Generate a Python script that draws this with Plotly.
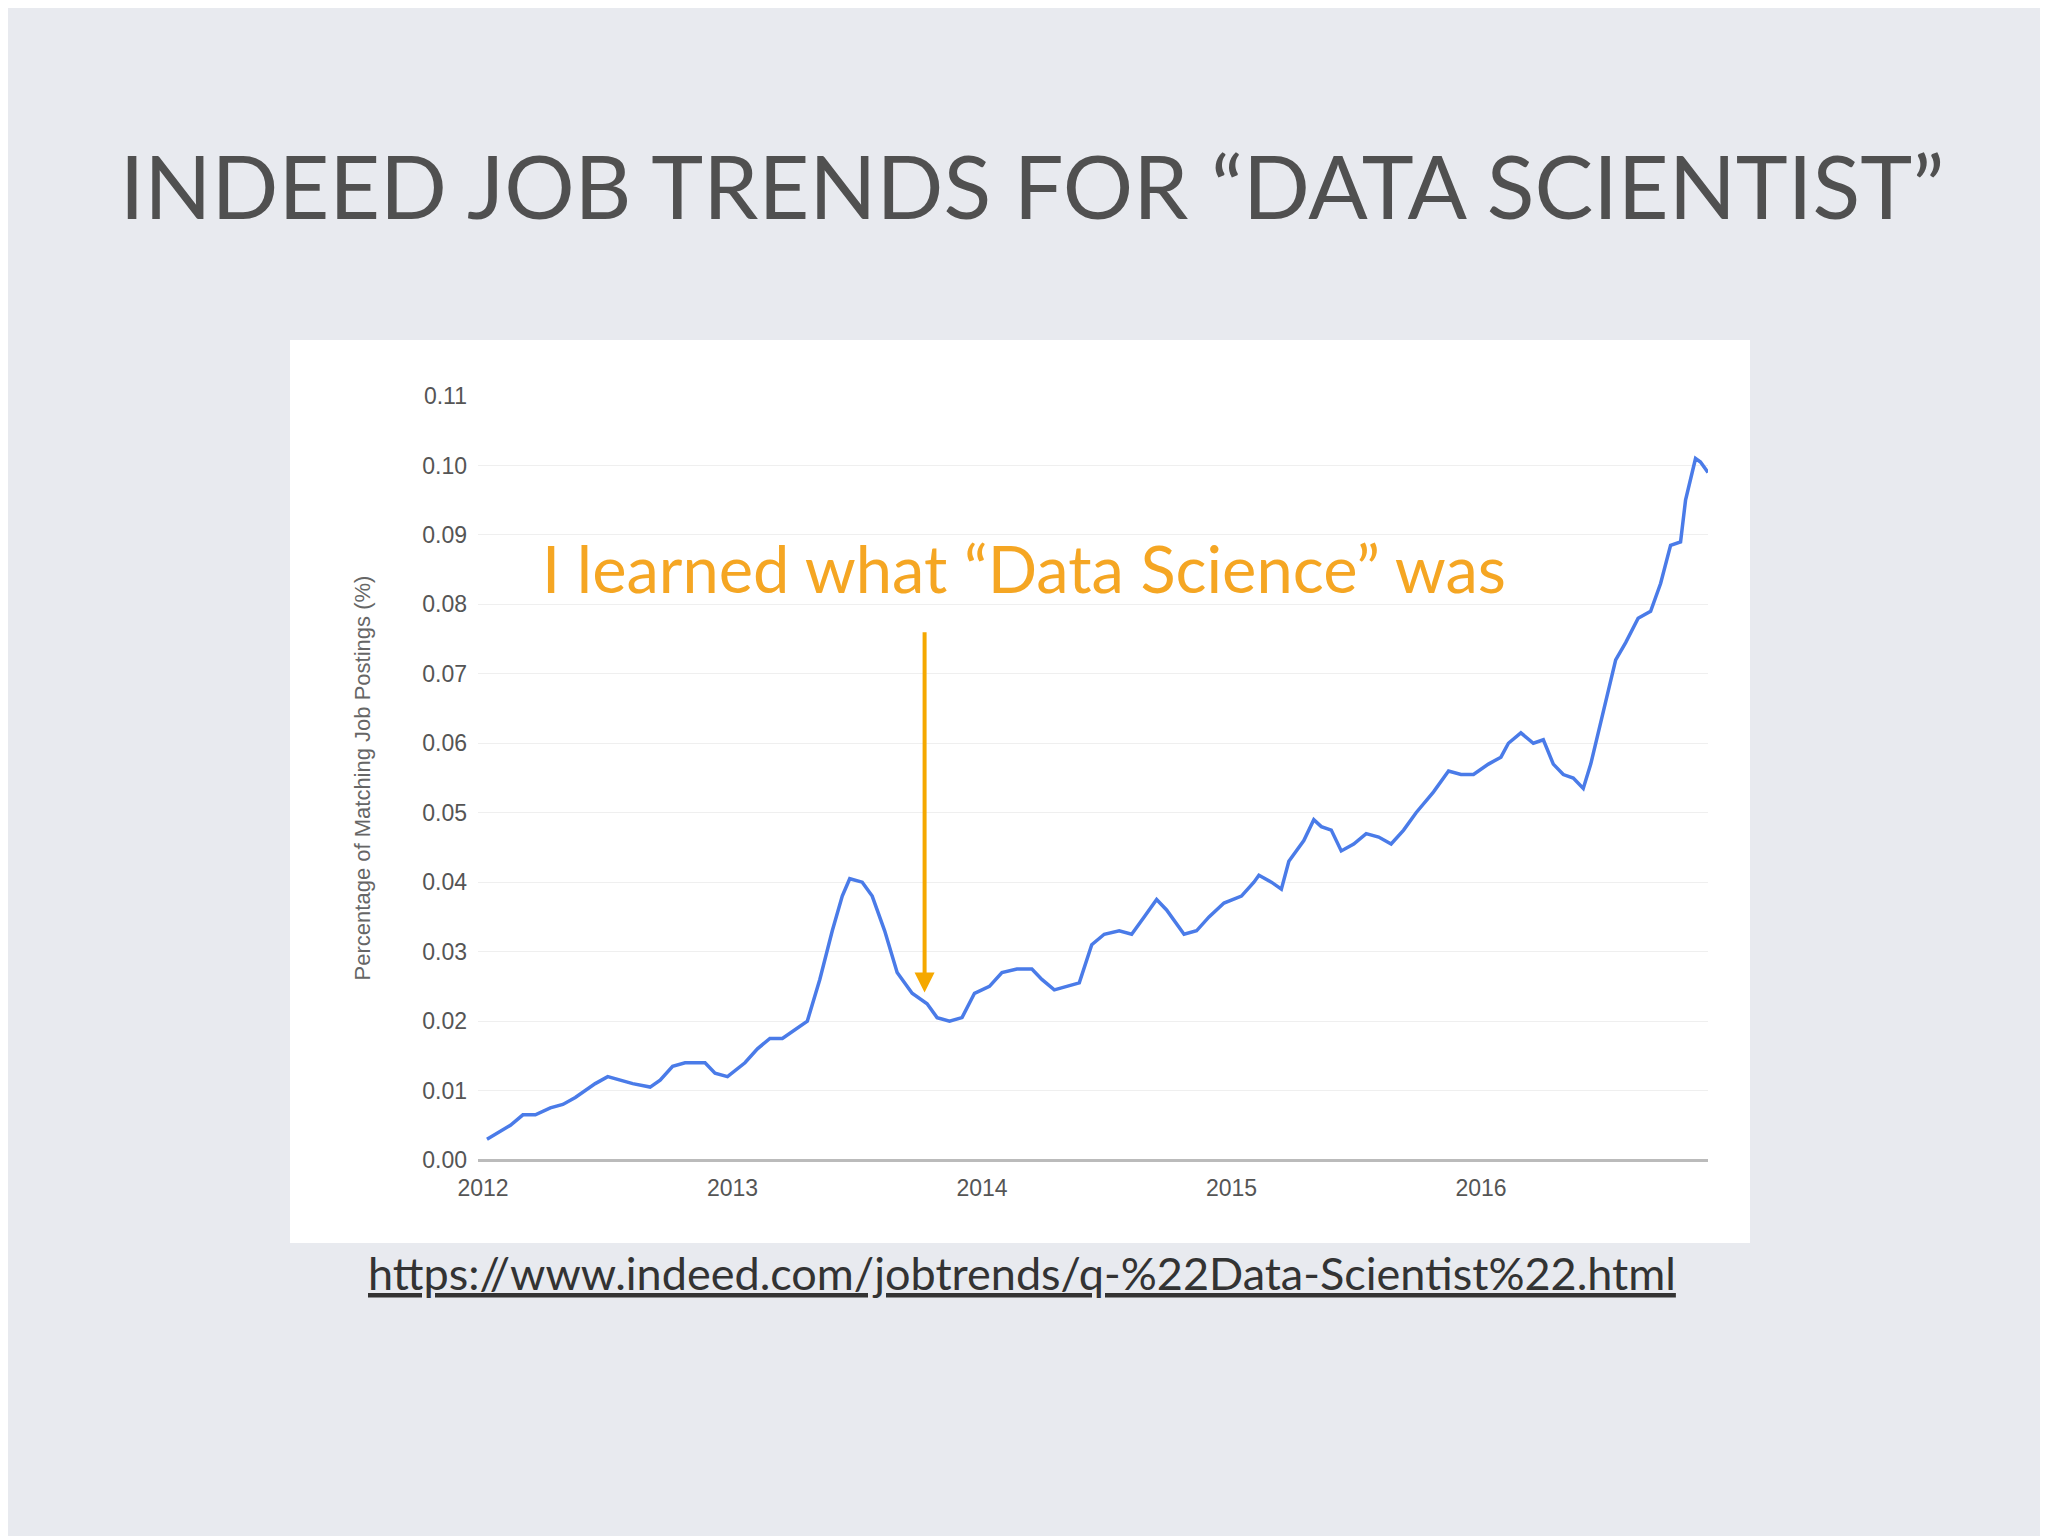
import plotly.graph_objects as go

years = [2012.016,2012.11,2012.16,2012.21,2012.27,2012.32,2012.37,2012.45,2012.50,2012.55,2012.60,2012.67,2012.71,2012.76,2012.81,2012.89,2012.93,2012.98,
2013.05,2013.10,2013.15,2013.20,2013.26,2013.30,2013.35,2013.40,2013.44,2013.47,2013.52,2013.56,2013.61,2013.66,2013.72,2013.78,2013.82,2013.87,2013.92,2013.97,
2014.03,2014.08,2014.14,2014.20,2014.24,2014.29,2014.34,2014.39,2014.44,2014.49,2014.55,2014.60,2014.65,2014.70,2014.74,2014.81,2014.86,2014.91,2014.97,
2015.04,2015.09,2015.11,2015.16,2015.20,2015.23,2015.29,2015.33,2015.36,2015.40,2015.44,2015.49,2015.54,2015.59,2015.64,2015.69,2015.74,2015.81,2015.87,2015.92,2015.97,
2016.03,2016.08,2016.11,2016.16,2016.21,2016.25,2016.29,2016.33,2016.37,2016.41,2016.44,2016.48,2016.54,2016.58,2016.63,2016.68,2016.72,2016.76,2016.80,2016.82,2016.86,2016.88,2016.91]
values = [0.003,0.005,0.0065,0.0065,0.0075,0.008,0.009,0.011,0.012,0.0115,0.011,0.0105,0.0115,0.0135,0.014,0.014,0.0125,0.012,
0.014,0.016,0.0175,0.0175,0.019,0.020,0.026,0.033,0.038,0.0405,0.040,0.038,0.033,0.027,0.024,0.0225,0.0205,0.020,0.0205,0.024,
0.025,0.027,0.0275,0.0275,0.026,0.0245,0.025,0.0255,0.031,0.0325,0.033,0.0325,0.035,0.0375,0.036,0.0325,0.033,0.035,0.037,
0.038,0.040,0.041,0.040,0.039,0.043,0.046,0.049,0.048,0.0475,0.0445,0.0455,0.047,0.0465,0.0455,0.0475,0.050,0.053,0.056,0.0555,0.0555,
0.057,0.058,0.060,0.0615,0.060,0.0605,0.057,0.0555,0.055,0.0535,0.057,0.063,0.072,0.0745,0.078,0.079,0.083,0.0885,0.089,0.095,0.101,0.1005,0.099]
tick_years = [2012, 2013, 2014, 2015, 2016]
tick_vals = [0.00,0.01,0.02,0.03,0.04,0.05,0.06,0.07,0.08,0.09,0.10,0.11]

L, T, W, H = 470, 388, 1230, 764
fig = go.Figure(go.Scatter(x=years, y=values, mode="lines",
                           line=dict(color="#4a7be8", width=3.5), hoverinfo="skip"))
fig.update_layout(
    width=2048, height=1536, paper_bgcolor="#e8eaef", plot_bgcolor="white",
    margin=dict(l=L, r=2048-L-W, t=T, b=1536-T-H), showlegend=False,
    shapes=[dict(type="rect", xref="paper", yref="paper", layer="below",
                 x0=-188/W, x1=1+42/W, y0=-83/H, y1=1+56/H,
                 fillcolor="white", line_width=0)],
    title=dict(text="INDEED JOB TRENDS FOR “DATA SCIENTIST”", x=0.5, xanchor="center",
               y=1-180/1536, yanchor="middle",
               font=dict(family="Lato", size=88, color="#505050")),
    annotations=[
        dict(text="I learned what “Data Science” was", xref="paper", yref="paper",
             x=(532-L)/W, y=(T+H-560)/H, xanchor="left", yanchor="middle",
             showarrow=False, font=dict(family="Lato", size=65, color="#f5a623")),
        dict(x=2013.77, y=0.0241, ax=2013.77, ay=0.0762, xref="x", yref="y",
             axref="x", ayref="y", text="", showarrow=True, arrowhead=2,
             arrowsize=1, arrowwidth=4, arrowcolor="#f5a800"),
        dict(text="<u>https://www.indeed.com/jobtrends/q-%22Data-Scientist%22.html</u>",
             xref="paper", yref="paper", x=(1014-L)/W, y=(T+H-1265)/H,
             xanchor="center", yanchor="middle", showarrow=False,
             font=dict(family="Lato", size=45, color="#333")),
    ],
)
fig.update_xaxes(range=[2011.98, 2016.91], tickvals=tick_years, ticktext=[str(t) for t in tick_years],
                 showgrid=False, zeroline=False, showline=False, ticks="", ticklabelstandoff=12,
                 tickfont=dict(family="Liberation Sans", size=23, color="#555"))
fig.update_yaxes(range=[0, 0.11], tickvals=tick_vals, tickformat=".2f", ticklabelstandoff=10,
                 gridcolor="#efefef", zeroline=True, zerolinecolor="#bbb", zerolinewidth=3,
                 tickfont=dict(family="Liberation Sans", size=23, color="#555"),
                 title=dict(text="Percentage of Matching Job Postings (%)", standoff=45,
                            font=dict(family="Liberation Sans", size=22, color="#666")))
fig.write_html("out.html")
